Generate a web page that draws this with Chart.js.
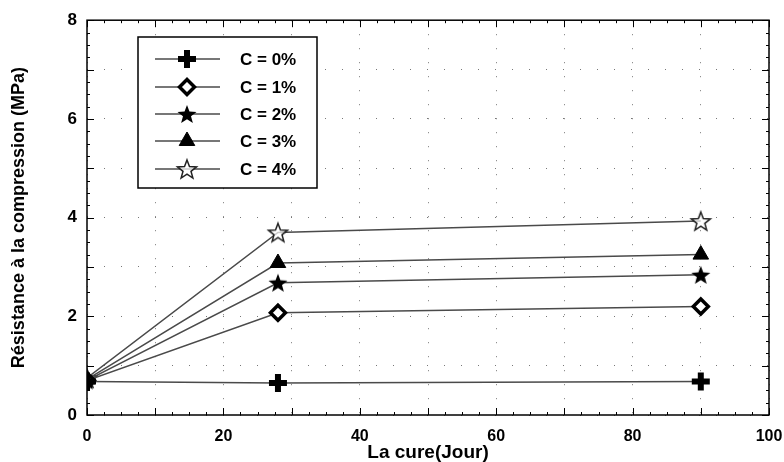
<!DOCTYPE html>
<html>
<head>
<meta charset="utf-8">
<script src="https://cdn.jsdelivr.net/npm/chart.js@4.4.1/dist/chart.umd.min.js"></script>
<style>
  html, body { margin: 0; padding: 0; background: #fff; }
  #wrap { width: 784px; height: 462px; }
</style>
</head>
<body>
<div id="wrap"><canvas id="chart" width="784" height="462"></canvas></div>
<script>
// Curing age (days) and compressive strength (MPa) per cement content
const days = [0, 28, 90];
const labels = ['C = 0%', 'C = 1%', 'C = 2%', 'C = 3%', 'C = 4%'];
const c0 = [0.68, 0.65, 0.68];
const c1 = [0.70, 2.07, 2.20];
const c2 = [0.70, 2.68, 2.84];
const c3 = [0.72, 3.08, 3.25];
const c4 = [0.75, 3.70, 3.93];
const xTicks = [0, 20, 40, 60, 80, 100];
const yTicks = [0, 2, 4, 6, 8];

const FONT = '"Liberation Sans", Arial, sans-serif';

// five-point star sprite, filled or outlined
function makeStar(filled) {
    const s = 24, c = document.createElement('canvas');
    c.width = s; c.height = s;
    const g = c.getContext('2d');
    const R = 10, r = 4.2;
    g.beginPath();
    for (let i = 0; i < 10; i++) {
        const rad = i % 2 ? r : R;
        const a = -Math.PI / 2 + i * Math.PI / 5;
        const px = s / 2 + rad * Math.cos(a), py = s / 2 + 1 + rad * Math.sin(a);
        i ? g.lineTo(px, py) : g.moveTo(px, py);
    }
    g.closePath();
    if (filled) {
        g.fillStyle = '#000'; g.fill();
    } else {
        g.fillStyle = 'rgba(255,255,255,0.7)'; g.fill();
        g.strokeStyle = '#222'; g.lineWidth = 1.5; g.stroke();
    }
    return c;
}
const starFull = makeStar(true);
const starOpen = makeStar(false);

const seriesStyle = [
    { pointStyle: 'cross', radius: 9, borderWidth: 6, bg: '#000' },
    { pointStyle: 'rectRot', radius: 7.5, borderWidth: 3.5, bg: '#fff' },
    { pointStyle: starFull, radius: 8, borderWidth: 1, bg: '#000' },
    { pointStyle: 'triangle', radius: 9, borderWidth: 1, bg: '#000' },
    { pointStyle: starOpen, radius: 8, borderWidth: 1, bg: '#fff' }
];
const values = [c0, c1, c2, c3, c4];

const datasets = values.map((v, i) => ({
    label: labels[i],
    data: days.map((d, j) => ({ x: d, y: v[j] })),
    borderColor: '#4a4a4a',
    borderWidth: 1.5,
    pointStyle: seriesStyle[i].pointStyle,
    pointRadius: seriesStyle[i].radius,
    pointBorderWidth: seriesStyle[i].borderWidth,
    pointBorderColor: '#000',
    pointBackgroundColor: seriesStyle[i].bg,
    tension: 0
}));

// frame, inward ticks and the boxed legend
const framePlugin = {
    id: 'frame',
    afterDraw(chart) {
        const { ctx, chartArea: a, scales } = chart;
        ctx.save();
        ctx.strokeStyle = '#000';
        ctx.lineWidth = 1;
        // minor + major ticks on all four sides
        for (let v = 0; v <= 100.001; v += 2.5) {
            const px = Math.round(scales.x.getPixelForValue(v)) + 0.5;
            const len = (v % 10 === 0) ? 7 : 3;
            ctx.beginPath();
            ctx.moveTo(px, a.bottom); ctx.lineTo(px, a.bottom - len);
            ctx.moveTo(px, a.top); ctx.lineTo(px, a.top + len);
            ctx.stroke();
        }
        for (let v = 0; v <= 8.001; v += 0.25) {
            const py = Math.round(scales.y.getPixelForValue(v)) + 0.5;
            const len = (Math.abs(v - Math.round(v)) < 1e-6) ? 7 : 3;
            ctx.beginPath();
            ctx.moveTo(a.left, py); ctx.lineTo(a.left + len, py);
            ctx.moveTo(a.right, py); ctx.lineTo(a.right - len, py);
            ctx.stroke();
        }
        ctx.lineWidth = 1.5;
        ctx.strokeRect(a.left, a.top, a.right - a.left, a.bottom - a.top);

        // legend box
        const bx = 138, by = 37, bw = 179, bh = 151;
        ctx.fillStyle = '#fff';
        ctx.fillRect(bx, by, bw, bh);
        ctx.lineWidth = 1.5;
        ctx.strokeRect(bx, by, bw, bh);
        const rows = [59, 87, 114, 141, 169];
        ctx.font = 'bold 17px ' + FONT;
        ctx.textBaseline = 'middle';
        datasets.forEach((ds, i) => {
            const y = rows[i];
            ctx.strokeStyle = '#4a4a4a';
            ctx.lineWidth = 1.5;
            ctx.beginPath();
            ctx.moveTo(155, y); ctx.lineTo(220, y);
            ctx.stroke();
            ctx.strokeStyle = '#000';
            ctx.fillStyle = ds.pointBackgroundColor;
            ctx.lineWidth = ds.pointBorderWidth;
            Chart.helpers.drawPoint(ctx, {
                pointStyle: ds.pointStyle,
                radius: ds.pointRadius,
                borderWidth: ds.pointBorderWidth,
                rotation: 0
            }, 187, y);
            ctx.fillStyle = '#000';
            ctx.fillText(ds.label, 240, y + 1);
        });
        ctx.restore();
    }
};

new Chart(document.getElementById('chart'), {
    type: 'line',
    data: { datasets },
    plugins: [framePlugin],
    options: {
        responsive: false,
        animation: false,
        layout: { padding: { left: 0, right: 15, top: 18, bottom: 0 } },
        plugins: { legend: { display: false }, tooltip: { enabled: false } },
        scales: {
            x: {
                type: 'linear',
                min: 0, max: 100,
                afterFit(s) { s.height = 47; s.paddingLeft = 0; s.paddingRight = 0; },
                afterBuildTicks(s) { s.ticks = Array.from({ length: 11 }, (_, i) => ({ value: i * 10 })); },
                ticks: {
                    color: '#000',
                    padding: 12,
                    maxRotation: 0,
                    font: { family: FONT, size: 16, weight: 'bold' },
                    callback: v => xTicks.includes(v) ? String(v) : ''
                },
                grid: {
                    color: '#777',
                    lineWidth: 1,
                    drawTicks: false
                },
                border: { display: false, dash: [1, 13] },
                title: {
                    display: true,
                    text: 'La cure(Jour)',
                    color: '#000',
                    font: { family: FONT, size: 19, weight: 'bold' },
                    padding: { top: 0, bottom: -2 }
                }
            },
            y: {
                min: 0, max: 8,
                afterFit(s) { s.width = 87; },
                afterBuildTicks(s) { s.ticks = Array.from({ length: 9 }, (_, i) => ({ value: i })); },
                ticks: {
                    color: '#000',
                    padding: 10,
                    font: { family: FONT, size: 17, weight: 'bold' },
                    callback: v => yTicks.includes(v) ? String(v) : ''
                },
                grid: {
                    color: '#777',
                    lineWidth: 1,
                    drawTicks: false
                },
                border: { display: false, dash: [1, 16] },
                title: {
                    display: true,
                    text: 'Résistance à la compression (MPa)',
                    color: '#000',
                    font: { family: FONT, size: 18, weight: 'bold' },
                    padding: { top: 8, bottom: 2 }
                }
            }
        }
    }
});
</script>
</body>
</html>
